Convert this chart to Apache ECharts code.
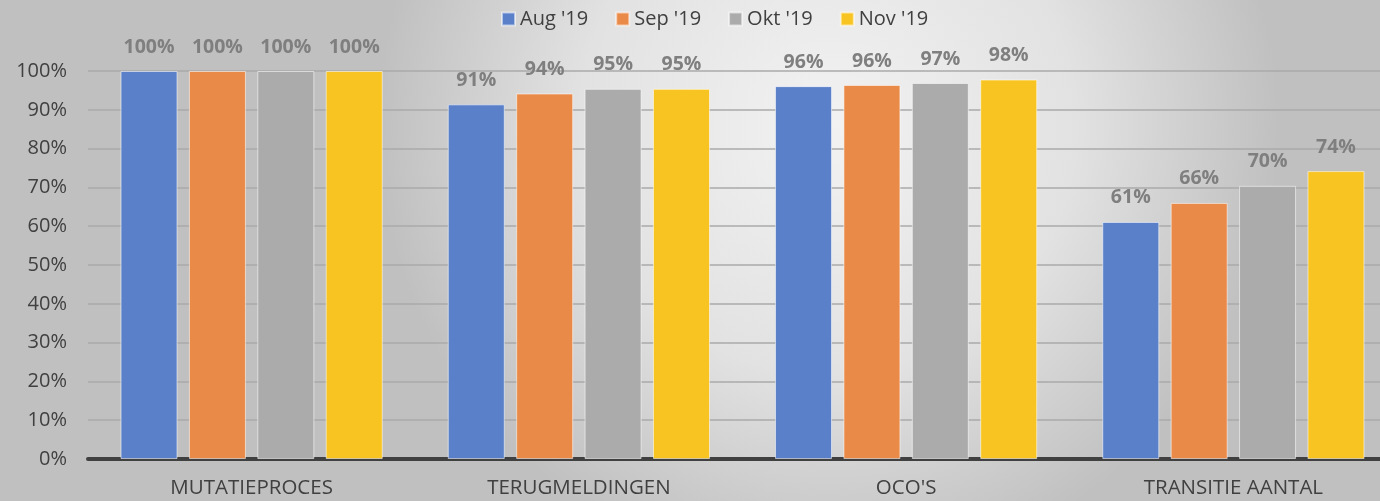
<!DOCTYPE html>
<html>
<head>
<meta charset="utf-8">
<script src="https://cdn.jsdelivr.net/npm/echarts@6/dist/echarts.min.js"></script>
<style>
  html, body { margin: 0; padding: 0; }
  #chart { width: 1380px; height: 501px; }
</style>
</head>
<body>
<div id="chart"></div>
<script>
// categories and months
const categories = ['MUTATIEPROCES', 'TERUGMELDINGEN', "OCO'S", 'TRANSITIE AANTAL'];
const months = ["Aug '19", "Sep '19", "Okt '19", "Nov '19"];

// values per month, in %
const aug = [100, 91.4, 96.1, 61.1];
const sep = [100, 94.2, 96.4, 66.0];
const okt = [100, 95.4, 96.9, 70.4];
const nov = [100, 95.4, 97.8, 74.2];

const yTicks = { min: 0, max: 100, interval: 10 };

const colors = ['#5a80c9', '#ea8a48', '#ababab', '#f8c421'];
const seriesData = [aug, sep, okt, nov];

const myChart = echarts.init(document.getElementById('chart'));

const option = {
    backgroundColor: {
        type: 'radial', x: 0.6, y: 0.25, r: 0.9,
        colorStops: [
            { offset: 0, color: '#f2f2f2' },
            { offset: 0.55, color: '#e2e2e2' },
            { offset: 1, color: '#c0c0c0' }
        ]
    },
    textStyle: { fontFamily: 'Open Sans' },
    legend: {
        top: 4,
        left: 496,
        itemWidth: 13,
        itemHeight: 13,
        itemGap: 27,
        icon: 'rect',
        textStyle: { fontSize: 20, color: '#404040', fontFamily: 'Open Sans' },
        data: months
    },
    grid: {
        top: 71,
        left: 88,
        width: 1309,
        bottom: 42,
        outerBoundsMode: 'none',
        containLabel: false
    },
    xAxis: {
        type: 'category',
        data: categories,
        axisTick: { show: false },
        axisLine: { show: true, lineStyle: { color: '#404040', width: 4 } },
        axisLabel: { color: '#404040', fontSize: 20.5, margin: 19 }
    },
    yAxis: {
        type: 'value',
        min: yTicks.min,
        max: yTicks.max,
        interval: yTicks.interval,
        axisLine: { show: false },
        axisTick: { show: false },
        axisLabel: { color: '#404040', fontSize: 20, margin: 21, formatter: '{value}%' },
        splitLine: { lineStyle: { color: '#aaaaaa', width: 1.5 } }
    },
    series: seriesData.map(function (d, i) {
        return {
            name: months[i],
            type: 'bar',
            data: d,
            barWidth: 57,
            barGap: '20%',
            itemStyle: {
                color: colors[i],
                borderColor: 'rgba(255,255,255,0.55)',
                borderWidth: 1
            },
            label: {
                show: true,
                position: 'top',
                distance: 14,
                color: '#7f7f7f',
                fontWeight: 'bold',
                fontSize: 19.5,
                formatter: function (p) { return Math.round(p.value) + '%'; }
            }
        };
    })
};

myChart.setOption(option);
</script>
</body>
</html>
